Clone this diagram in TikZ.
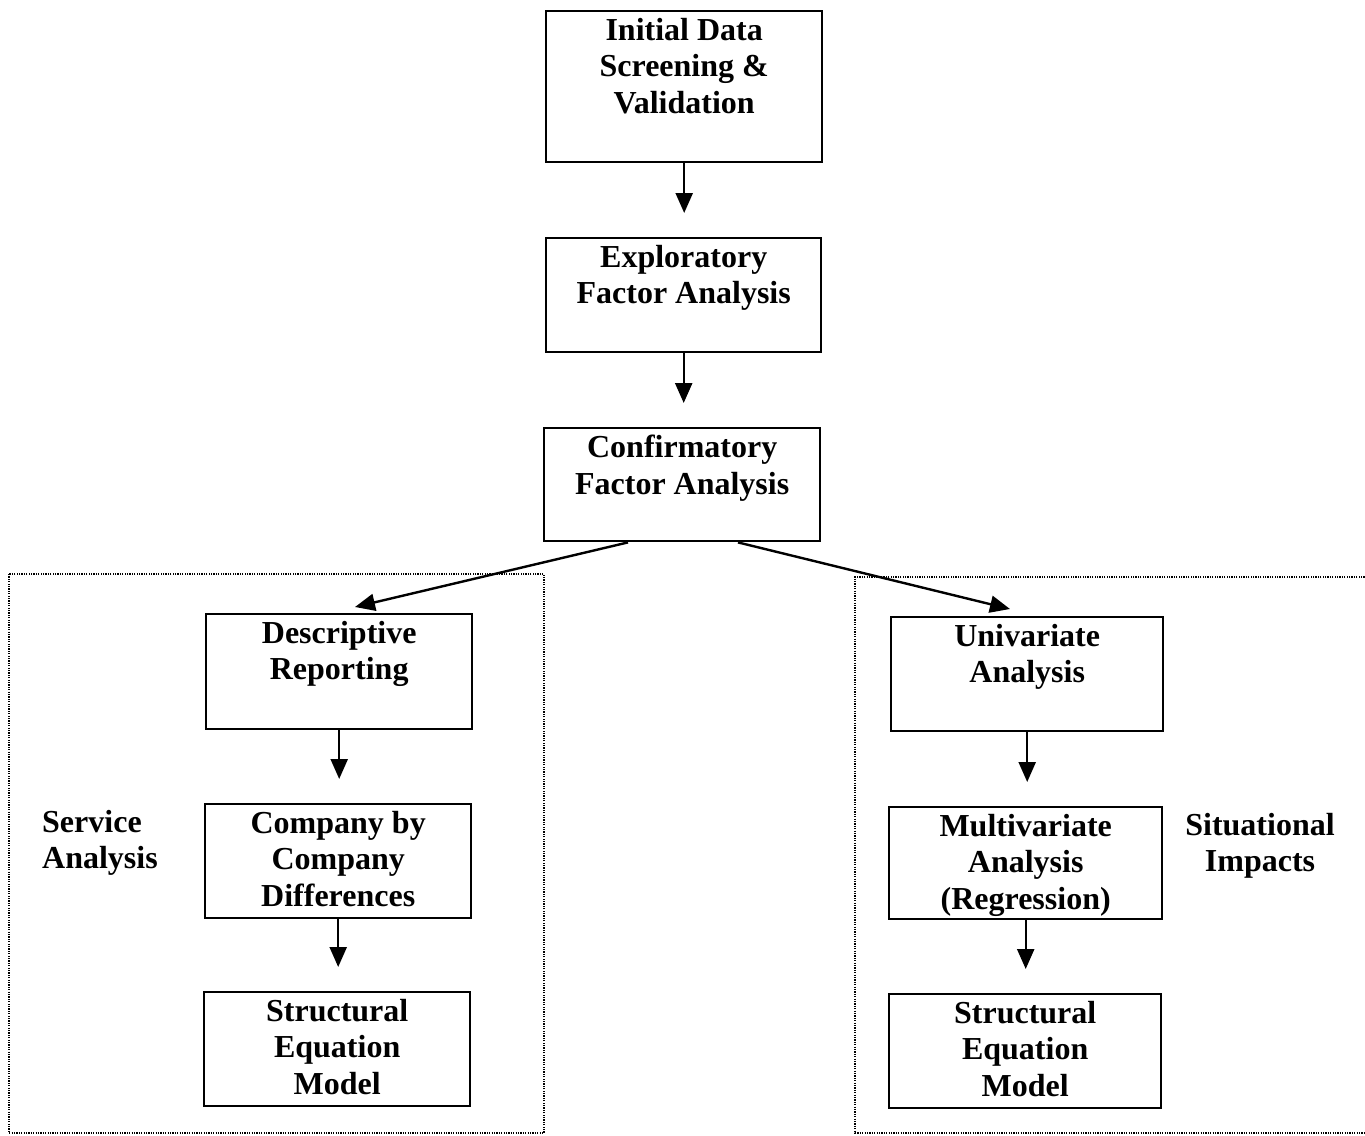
\documentclass[tikz,border=0pt]{standalone}
\usepackage{fontspec}
\setmainfont{Liberation Serif}
\usetikzlibrary{arrows.meta,calc}
\begin{document}
\begin{tikzpicture}[x=1pt,y=-1pt,
  box/.style={draw,line width=2.4pt,anchor=north west,inner sep=0pt},
  lbl/.style={align=center,inner sep=0pt,anchor=north,
              font=\fontsize{32}{36.5}\selectfont\bfseries},
  side/.style={inner sep=0pt,font=\fontsize{32}{36.5}\selectfont\bfseries},
  flow/.style={line width=2.4pt,-{Triangle[length=20pt,width=17pt]}},
  group/.style={line width=1.8pt,dash pattern=on 1.2pt off 1.2pt}]
\useasboundingbox (0,0) rectangle (1365,1135);

% group frames
\draw[group] (9,574) rectangle (544,1133);
\draw[group] (1367,577) -- (855,577) -- (855,1133) -- (1367,1133);

% main sequence
\node[box,minimum width=276pt,minimum height=151pt] (init) at (545,10) {};
\node[lbl] (initT) at ($(init.north)+(0,8)$) {Initial Data\\Screening \&\\Validation};

\node[box,minimum width=275pt,minimum height=114pt] (efa) at (545,237) {};
\node[lbl] (efaT) at ($(efa.north)+(0,8)$) {Exploratory\\Factor Analysis};

\node[box,minimum width=276pt,minimum height=113pt] (cfa) at (543,427) {};
\node[lbl] (cfaT) at ($(cfa.north)+(0,8)$) {Confirmatory\\Factor Analysis};

% left branch
\node[box,minimum width=266pt,minimum height=115pt] (desc) at (205,613) {};
\node[lbl] (descT) at ($(desc.north)+(0,8)$) {Descriptive\\Reporting};

\node[box,minimum width=266pt,minimum height=114pt] (comp) at (204,803) {};
\node[lbl] (compT) at ($(comp.north)+(0,8)$) {Company by\\Company\\Differences};

\node[box,minimum width=266pt,minimum height=114pt] (semL) at (203,991) {};
\node[lbl] (semLT) at ($(semL.north)+(0,8)$) {Structural\\Equation\\Model};

% right branch
\node[box,minimum width=272pt,minimum height=114pt] (uni) at (890,616) {};
\node[lbl] (uniT) at ($(uni.north)+(0,8)$) {Univariate\\Analysis};

\node[box,minimum width=273pt,minimum height=112pt] (multi) at (888,806) {};
\node[lbl] (multiT) at ($(multi.north)+(0,8)$) {Multivariate\\Analysis\\(Regression)};

\node[box,minimum width=272pt,minimum height=114pt] (semR) at (888,993) {};
\node[lbl] (semRT) at ($(semR.north)+(0,8)$) {Structural\\Equation\\Model};

% group captions
\node[side,align=left,anchor=north west] (svc) at (42,810) {Service\\Analysis};
\node[side,align=center,anchor=north] (sit) at (1260,813) {Situational\\Impacts};

% connector end points
\coordinate (cfaL) at ($(cfa.south west)+(85,0)$);
\coordinate (cfaR) at ($(cfa.south west)+(195,0)$);
\coordinate (descIn) at ($(desc.north west)+(150,-6)$);
\coordinate (uniIn) at ($(uni.north west)+(120,-7)$);
\coordinate (efaIn) at ($(efa.north)+(0,-24)$);
\coordinate (cfaIn) at ($(cfa.north)+(0,-24)$);
\coordinate (compIn) at ($(comp.north)+(0,-24)$);
\coordinate (semLIn) at ($(semL.north)+(0,-24)$);
\coordinate (multiIn) at ($(multi.north)+(0,-24)$);
\coordinate (semRIn) at ($(semR.north)+(0,-24)$);

% connectors
\draw[flow] (init.south) -- (init.south |- efaIn);
\draw[flow] (efa.south) -- (efa.south |- cfaIn);
\draw[flow] (cfaL) -- (descIn);
\draw[flow] (cfaR) -- (uniIn);
\draw[flow] (desc.south) -- (desc.south |- compIn);
\draw[flow] (comp.south) -- (comp.south |- semLIn);
\draw[flow] (uni.south) -- (uni.south |- multiIn);
\draw[flow] (multi.south) -- (multi.south |- semRIn);
\end{tikzpicture}
\end{document}
